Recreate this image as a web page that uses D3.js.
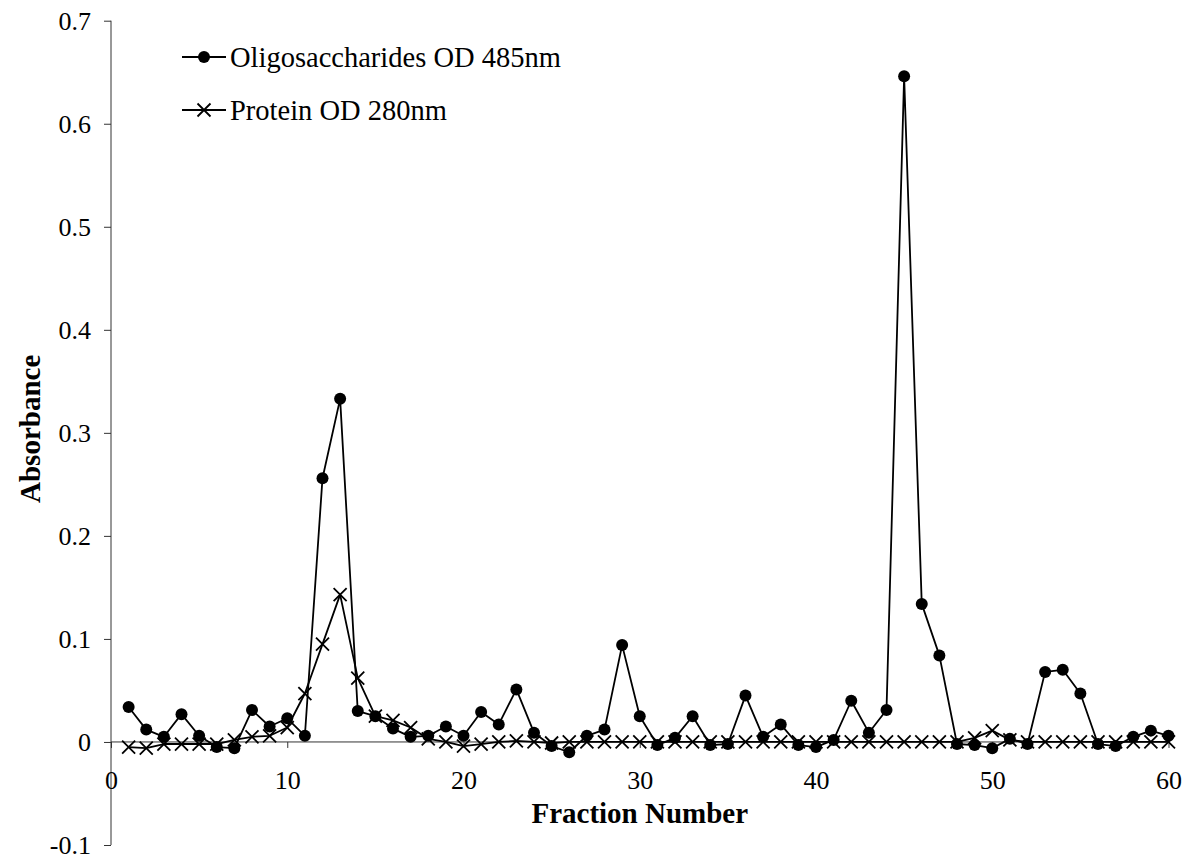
<!DOCTYPE html>
<html>
<head>
<meta charset="utf-8">
<script src="https://cdn.jsdelivr.net/npm/d3@7"></script>
<style>
  html, body { margin: 0; padding: 0; background: #fff; }
  svg { display: block; }
  text { font-family: "Liberation Serif", "Times New Roman", serif; fill: #000; }
</style>
</head>
<body>
<svg id="chart" width="1194" height="856"></svg>
<script>
// ---- data ----
const fractions = d3.range(1, 61);
const oligosaccharides = [
  0.034, 0.012, 0.005, 0.027, 0.006, -0.005, -0.006, 0.031, 0.015, 0.023,
  0.006, 0.256, 0.333, 0.030, 0.025, 0.013, 0.005, 0.006, 0.015, 0.006,
  0.029, 0.017, 0.051, 0.009, -0.004, -0.010, 0.006, 0.012, 0.094, 0.025,
  -0.003, 0.004, 0.025, -0.003, -0.002, 0.045, 0.005, 0.017, -0.003, -0.005,
  0.002, 0.040, 0.009, 0.031, 0.646, 0.134, 0.084, -0.002, -0.003, -0.006,
  0.003, -0.002, 0.068, 0.070, 0.047, -0.002, -0.004, 0.005, 0.011, 0.006
];
const protein = [
  -0.005, -0.006, -0.002, -0.002, -0.002, -0.002, 0.002, 0.005, 0.006, 0.014,
  0.047, 0.095, 0.143, 0.062, 0.025, 0.021, 0.014, 0.003, 0.000, -0.004,
  -0.002, 0.000, 0.001, 0.000, -0.001, 0.000, 0.000, 0.000, 0.000, 0.000,
  0.000, 0.000, 0.000, 0.000, 0.000, 0.000, 0.000, 0.000, 0.000, 0.000,
  0.000, 0.000, 0.000, 0.000, 0.000, 0.000, 0.000, 0.000, 0.004, 0.011,
  0.002, 0.000, 0.000, 0.000, 0.000, 0.000, 0.000, 0.000, 0.000, 0.000
];
const seriesNames = ["Oligosaccharides OD 485nm", "Protein OD 280nm"];
const xTicks = [0, 10, 20, 30, 40, 50, 60];
const yTicks = [-0.1, 0, 0.1, 0.2, 0.3, 0.4, 0.5, 0.6, 0.7];
const yTickLabels = ["-0.1", "0", "0.1", "0.2", "0.3", "0.4", "0.5", "0.6", "0.7"];
const xTitle = "Fraction Number";
const yTitle = "Absorbance";

// ---- layout ----
const svg = d3.select("#chart");
const mLeft = 111, mRight = 1168.5, mTop = 20.7, mBottom = 845;
const x = d3.scaleLinear().domain([0, 60]).range([mLeft, mRight]);
const y = d3.scaleLinear().domain([-0.1, 0.7]).range([mBottom, mTop]);
const axisColor = "#333";
const tickFont = "26px";

// Y axis
const yAxis = svg.append("g")
  .attr("transform", `translate(${mLeft},0)`)
  .call(d3.axisLeft(y).tickValues(yTicks).tickSize(7).tickPadding(13)
    .tickFormat((d, i) => yTickLabels[i]));
yAxis.select(".domain").attr("stroke", axisColor).attr("d", `M0,${mTop}V${mBottom}`);
yAxis.selectAll(".tick line").attr("stroke", axisColor);
yAxis.selectAll(".tick text").style("font-size", tickFont)
  .style("font-family", "'Liberation Serif', serif").attr("fill", "#000");

// X axis at y=0
const xAxis = svg.append("g")
  .attr("transform", `translate(0,${y(0)})`)
  .call(d3.axisBottom(x).tickValues(xTicks).tickSize(6).tickPadding(23)
    .tickFormat(d3.format("d")));
xAxis.select(".domain").attr("stroke", axisColor).attr("d", `M${mLeft},0H${mRight}`);
xAxis.selectAll(".tick line").attr("stroke", axisColor);
xAxis.selectAll(".tick text").style("font-size", tickFont)
  .style("font-family", "'Liberation Serif', serif").attr("fill", "#000");

// Titles
svg.append("text")
  .attr("x", (mLeft + mRight) / 2).attr("y", 823)
  .attr("text-anchor", "middle")
  .style("font-size", "29px").style("font-weight", "bold")
  .text(xTitle);
svg.append("text")
  .attr("transform", `translate(40,${(mTop + mBottom) / 2 - 4}) rotate(-90)`)
  .attr("text-anchor", "middle")
  .style("font-size", "29px").style("font-weight", "bold")
  .text(yTitle);

// Lines
const line = d3.line().x((d, i) => x(fractions[i])).y(d => y(d));
const lineW = 1.8;

svg.append("path").datum(oligosaccharides)
  .attr("fill", "none").attr("stroke", "#000").attr("stroke-width", lineW)
  .attr("stroke-linejoin", "round").attr("d", line);
svg.append("path").datum(protein)
  .attr("fill", "none").attr("stroke", "#000").attr("stroke-width", lineW)
  .attr("stroke-linejoin", "round").attr("d", line);

// markers
function crossPath(cx, cy, s) {
  return `M${cx - s},${cy - s}L${cx + s},${cy + s}M${cx - s},${cy + s}L${cx + s},${cy - s}`;
}
svg.append("g").selectAll("path").data(protein).join("path")
  .attr("d", (d, i) => crossPath(x(fractions[i]), y(d), 6.5))
  .attr("stroke", "#000").attr("stroke-width", 1.8).attr("fill", "none");
svg.append("g").selectAll("circle").data(oligosaccharides).join("circle")
  .attr("cx", (d, i) => x(fractions[i])).attr("cy", d => y(d))
  .attr("r", 6).attr("fill", "#000");

// Legend
const legendItems = [
  { name: seriesNames[0], type: "circle", ly: 57 },
  { name: seriesNames[1], type: "cross", ly: 110 }
];
const lg = svg.append("g");
legendItems.forEach(it => {
  lg.append("line").attr("x1", 182).attr("x2", 226).attr("y1", it.ly).attr("y2", it.ly)
    .attr("stroke", "#000").attr("stroke-width", lineW);
  if (it.type === "circle") {
    lg.append("circle").attr("cx", 204).attr("cy", it.ly).attr("r", 6).attr("fill", "#000");
  } else {
    lg.append("path").attr("d", crossPath(204, it.ly, 6.5)).attr("stroke", "#000").attr("stroke-width", 1.8);
  }
  lg.append("text").attr("x", 230).attr("y", it.ly).attr("dy", "0.35em")
    .style("font-size", "28.5px").text(it.name);
});
</script>
</body>
</html>
